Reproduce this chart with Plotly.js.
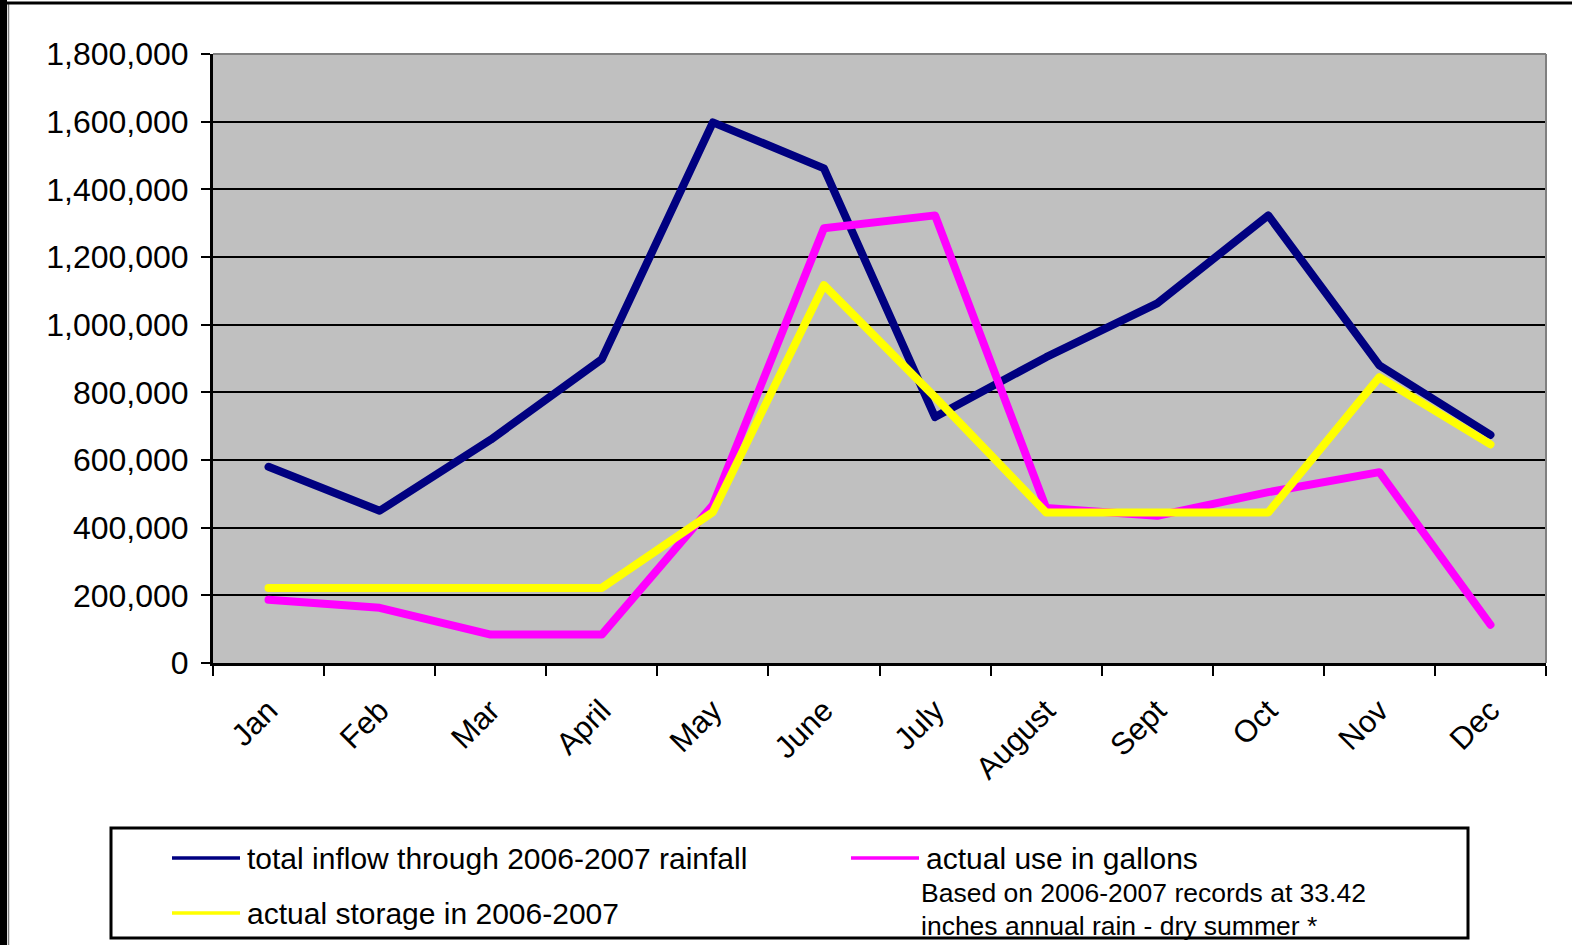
<!DOCTYPE html>
<html>
<head>
<meta charset="utf-8">
<script src="https://cdn.plot.ly/plotly-3.0.1.min.js"></script>
<style>
html,body{margin:0;padding:0;background:#fff;}
#chart{width:1572px;height:945px;}
#chart .scatterlayer path.js-line{stroke-linecap:round;stroke-linejoin:round;}
</style>
</head>
<body>
<div id="chart"></div>
<script>
const months = ["Jan","Feb","Mar","April","May","June","July","August","Sept","Oct","Nov","Dec"];
const totalInflow = [580000, 450000, 660000, 898000, 1598000, 1462000, 727000, 904000, 1063000, 1323000, 880000, 674000];
const actualUse = [187000, 163000, 84000, 84000, 467000, 1285000, 1323000, 458000, 435000, 505000, 564000, 113000];
const actualStorage = [222000, 222000, 222000, 222000, 446000, 1117000, 786000, 445000, 445000, 445000, 845000, 646000];
const seriesNames = ["total inflow through 2006-2007 rainfall", "actual use in gallons", "actual storage in 2006-2007"];
const seriesColors = ["#000080", "#ff00ff", "#ffff00"];
const noteLines = ["Based on 2006-2007 records at 33.42", "inches annual rain - dry summer *"];
const yTicks = [0,200000,400000,600000,800000,1000000,1200000,1400000,1600000,1800000];

const FONT = "Liberation Sans, Arial, sans-serif";
const L = 213, R = 1546, T = 54, B = 663, W = 1572, H = 945;
const px = v => (v - L) / (R - L);
const py = v => (B - v) / (B - T);

const seriesValues = [totalInflow, actualUse, actualStorage];
const traces = seriesValues.map((vals, i) => ({
  x: months, y: vals, name: seriesNames[i], type: "scatter", mode: "lines",
  line: {color: seriesColors[i], width: 8}, showlegend: false
}));

// legend placement (pixel positions of each entry's sample line start and row centre)
const legendPos = [[172, 858], [851, 858], [172, 913]];
const legendShapes = [];
const legendAnns = [];
seriesNames.forEach((nm, i) => {
  const [lx, ly] = legendPos[i];
  legendShapes.push({type: "line", xref: "paper", yref: "paper", x0: px(lx), x1: px(lx + 68), y0: py(ly), y1: py(ly),
    line: {color: seriesColors[i], width: 3.5}});
  legendAnns.push({xref: "paper", yref: "paper", x: px(lx + 73), y: py(ly), xanchor: "left", yanchor: "middle",
    showarrow: false, text: nm, font: {family: FONT, size: 30, color: "#000"}});
});
const noteY = [893, 926];
noteLines.forEach((t, i) => legendAnns.push({xref: "paper", yref: "paper", x: px(919), y: py(noteY[i]),
  xanchor: "left", yanchor: "middle", showarrow: false, align: "left", text: t,
  font: {family: FONT, size: 26.5, color: "#000"}}));

const layout = {
  width: W, height: H,
  paper_bgcolor: "#ffffff", plot_bgcolor: "#c0c0c0",
  margin: {l: L, r: W - R, t: T, b: H - B, pad: 0},
  font: {family: FONT, color: "#000"},
  showlegend: false,
  xaxis: {
    type: "category", tickson: "boundaries", ticks: "outside", ticklen: 10, tickwidth: 2, tickcolor: "#000",
    showline: true, linecolor: "#000", linewidth: 3, showgrid: false, zeroline: false,
    tickangle: -45, tickfont: {family: FONT, size: 31, color: "#000"}, range: [-0.5, 11.5], ticklabelstandoff: 14
  },
  yaxis: {
    range: [0, 1800000], tickvals: yTicks, tickformat: ",d", ticks: "outside", ticklen: 9, tickwidth: 2, tickcolor: "#000",
    showline: true, linecolor: "#000", linewidth: 3, showgrid: true, gridcolor: "#000", gridwidth: 2, zeroline: false,
    tickfont: {family: FONT, size: 32, color: "#000"}, ticklabelstandoff: 6
  },
  shapes: [
    {type: "line", xref: "paper", yref: "paper", x0: 0, x1: 1, y0: 1, y1: 1, line: {color: "#808080", width: 2}},
    {type: "line", xref: "paper", yref: "paper", x0: 1, x1: 1, y0: 0, y1: 1, line: {color: "#808080", width: 2}},
    {type: "rect", xref: "paper", yref: "paper", x0: px(111), x1: px(1468), y0: py(828), y1: py(938),
     line: {color: "#000", width: 3}, fillcolor: "rgba(0,0,0,0)"},
    {type: "rect", xref: "paper", yref: "paper", x0: px(-2), x1: px(7), y0: py(950), y1: py(-5),
     line: {width: 0}, fillcolor: "#000"},
    {type: "line", xref: "paper", yref: "paper", x0: px(8.5), x1: px(8.5), y0: py(950), y1: py(4),
     line: {color: "#808080", width: 1.5}},
    {type: "line", xref: "paper", yref: "paper", x0: px(0), x1: px(1572), y0: py(3), y1: py(3),
     line: {color: "#000", width: 3}}
  ].concat(legendShapes),
  annotations: legendAnns
};

Plotly.newPlot("chart", traces, layout, {displayModeBar: false, staticPlot: true});
</script>
</body>
</html>
